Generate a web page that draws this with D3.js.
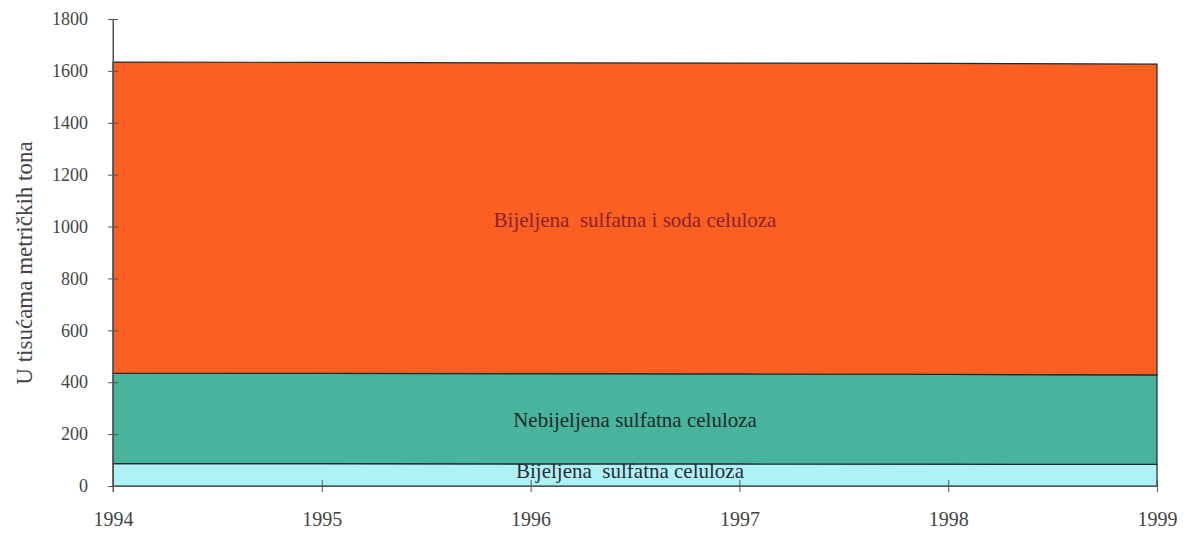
<!DOCTYPE html>
<html>
<head>
<meta charset="utf-8">
<script src="https://cdn.jsdelivr.net/npm/d3@7/dist/d3.min.js"></script>
<style>
  html, body { margin: 0; padding: 0; background: #ffffff; }
  svg { display: block; }
  svg text { font-family: "Liberation Serif", "Times New Roman", Times, "DejaVu Serif", serif; }
</style>
</head>
<body>
<svg id="chart" width="1185" height="533"></svg>
<script>
// ---- data ----
const years = [1994, 1995, 1996, 1997, 1998, 1999];
const bijeljenaSulfatna = [86, 86, 85, 85, 84, 83];
const nebijeljenaSulfatna = [349, 348, 348, 347, 346, 345];
const bijeljenaSoda = [1199, 1199, 1198, 1198, 1199, 1198];
const yTicks = [0, 200, 400, 600, 800, 1000, 1200, 1400, 1600, 1800];
const seriesNames = ["Bijeljena  sulfatna celuloza", "Nebijeljena sulfatna celuloza", "Bijeljena  sulfatna i soda celuloza"];
const yLabel = "U tisućama metričkih tona";

(function () {
// ---- layout ----
const svg = d3.select("#chart");
const pLeft = 113, pRight = 1157, pTop = 19, pBottom = 486;
const x = d3.scaleLinear().domain([1994, 1999]).range([pLeft, pRight]);
const y = d3.scaleLinear().domain([0, 1800]).range([pBottom, pTop]);

const rows = years.map((yr, i) => ({
  year: yr,
  s0: bijeljenaSulfatna[i],
  s1: nebijeljenaSulfatna[i],
  s2: bijeljenaSoda[i]
}));
const layers = d3.stack().keys(["s0", "s1", "s2"])(rows);
const fills = ["#aef2f6", "#48b49e", "#fb5f22"];
const labelColors = ["#2a2a3a", "#1f2a28", "#8e1f2c"];

const area = d3.area()
  .x(d => x(d.data.year))
  .y0(d => y(d[0]))
  .y1(d => y(d[1]));

svg.append("g").selectAll("path")
  .data(layers)
  .join("path")
  .attr("d", area)
  .attr("fill", (d, i) => fills[i])
  .attr("stroke", "#1e2b2b")
  .attr("stroke-width", 1.2);

// ---- axes ----
const axisColor = "#555";

const yAxis = svg.append("g").attr("transform", `translate(${pLeft},0)`)
  .call(d3.axisLeft(y).tickValues(yTicks).tickFormat(d3.format("d")).tickSizeInner(5).tickSizeOuter(0).tickPadding(20));
yAxis.attr("font-family", null);
yAxis.select(".domain").attr("stroke", axisColor);
yAxis.selectAll(".tick line").attr("stroke", axisColor).attr("x2", 5).attr("x1", -5);
yAxis.selectAll("text").attr("font-size", 18).attr("fill", "#444");

svg.append("line")
  .attr("x1", pLeft).attr("x2", pLeft).attr("y1", y(1800)).attr("y2", y(0) + 6)
  .attr("stroke", axisColor);

const xAxis = svg.append("g").attr("transform", `translate(0,${pBottom})`)
  .call(d3.axisBottom(x).tickValues(years).tickFormat(d3.format("d")).tickSizeInner(6).tickSizeOuter(0).tickPadding(20));
xAxis.attr("font-family", null);
xAxis.select(".domain").attr("stroke", axisColor);
xAxis.selectAll(".tick line").attr("stroke", axisColor).attr("y1", -6).attr("y2", 6);
xAxis.selectAll("text").attr("font-size", 20).attr("fill", "#444");

// y axis title
svg.append("text")
  .attr("transform", `translate(32,263) rotate(-90)`)
  .attr("text-anchor", "middle")
  .attr("font-size", 23)
  .attr("fill", "#444")
  .text(yLabel);

// ---- area labels ----
const midYear = 1996.5;
const idx = 2;
const labelBaselines = [
  y(layers[0][idx][1]) + 14,
  (y(layers[1][idx][0]) + y(layers[1][idx][1])) / 2 + 8,
  (y(layers[2][idx][0]) + y(layers[2][idx][1])) / 2 + 9
];
const labelDx = [-5, 0, 0];
svg.append("g").selectAll("text")
  .data(seriesNames)
  .join("text")
  .attr("x", (d, i) => x(midYear) + labelDx[i])
  .attr("y", (d, i) => labelBaselines[i])
  .attr("text-anchor", "middle")
  .attr("font-size", 21)
  .attr("fill", (d, i) => labelColors[i])
  .style("white-space", "pre")
  .text(d => d);
})();
</script>
</body>
</html>
